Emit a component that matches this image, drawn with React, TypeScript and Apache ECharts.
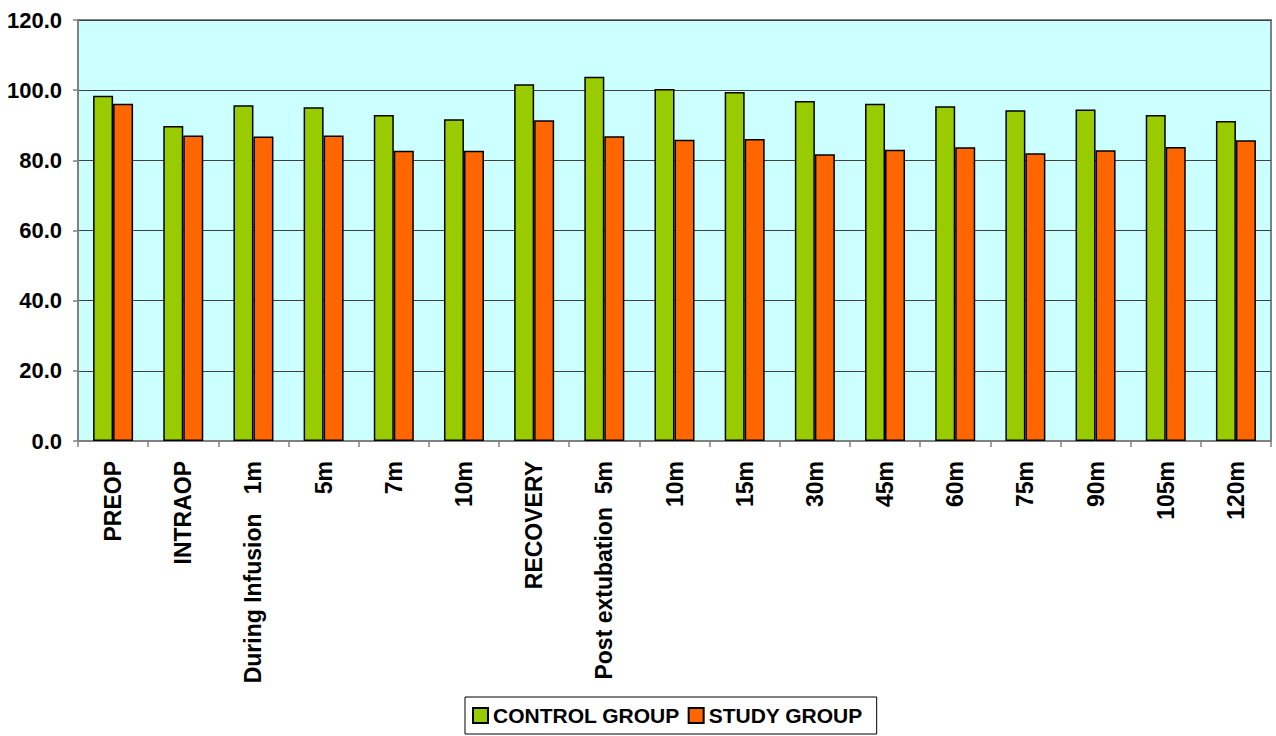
import React, { useEffect, useRef } from "react";
import * as echarts from "echarts";

const categories = [
  "PREOP",
  "INTRAOP",
  "During Infusion   1m",
  "5m",
  "7m",
  "10m",
  "RECOVERY",
  "Post extubation  5m",
  "10m",
  "15m",
  "30m",
  "45m",
  "60m",
  "75m",
  "90m",
  "105m",
  "120m",
];

const controlGroup = [98.4, 89.8, 95.7, 95.1, 92.9, 91.7, 101.7, 103.8, 100.3, 99.5, 96.9, 96.1, 95.4, 94.3, 94.5, 92.9, 91.2];
const studyGroup = [96.1, 87.1, 86.8, 87.1, 82.7, 82.7, 91.4, 86.9, 85.9, 86.1, 81.7, 83.0, 83.7, 82.0, 82.9, 83.8, 85.7];

const seriesNames = ["CONTROL GROUP", "STUDY GROUP"];
const yMin = 0;
const yMax = 120;
const yInterval = 20;

export default function App() {
  const ref = useRef<HTMLDivElement>(null);
  useEffect(() => {
    if (!ref.current) return;
    const chart = echarts.init(ref.current, null, { renderer: "svg" });
    chart.setOption({
      animation: false,
      backgroundColor: "#ffffff",
      grid: {
        left: 78,
        top: 20,
        right: 5,
        bottom: 295,
        show: true,
        outerBoundsMode: "none",
        containLabel: false,
        backgroundColor: "#CCFFFF",
        borderColor: "#808080",
        borderWidth: 2,
      },
      legend: {
        data: seriesNames,
        left: 465,
        top: 697,
        padding: [8, 14, 8, 7],
        itemWidth: 15,
        itemHeight: 15,
        itemGap: 8,
        icon: "rect",
        borderColor: "#000000",
        borderWidth: 1,
        textStyle: {
          color: "#000000",
          fontFamily: "'Liberation Sans', Arial, sans-serif",
          fontWeight: "bold",
          fontSize: 21,
        },
      },
      xAxis: {
        type: "category",
        data: categories,
        boundaryGap: true,
        axisLine: { show: true, lineStyle: { color: "#808080", width: 2 } },
        axisTick: { show: true, length: 6, lineStyle: { color: "#808080", width: 1.5 } },
        axisLabel: {
          interval: 0,
          rotate: 90,
          margin: 20,
          color: "#000000",
          fontFamily: "'Liberation Sans', Arial, sans-serif",
          fontWeight: "bold",
          fontSize: 23,
        },
        splitLine: { show: false },
      },
      yAxis: {
        type: "value",
        min: yMin,
        max: yMax,
        interval: yInterval,
        axisLine: { show: true, lineStyle: { color: "#808080", width: 2 } },
        axisTick: { show: true, length: 5, lineStyle: { color: "#808080", width: 1.5 } },
        axisLabel: {
          margin: 16,
          color: "#000000",
          fontFamily: "'Liberation Sans', Arial, sans-serif",
          fontWeight: "bold",
          fontSize: 22,
          formatter: (v: number) => v.toFixed(1),
        },
        splitLine: { show: true, lineStyle: { color: "#404040", width: 1.2 } },
      },
      series: [
        {
          name: seriesNames[0],
          type: "bar",
          data: controlGroup,
          barGap: "0%",
          barCategoryGap: "43%",
          itemStyle: { color: "#99CC00", borderColor: "#000000", borderWidth: 1.5 },
        },
        {
          name: seriesNames[1],
          type: "bar",
          data: studyGroup,
          barGap: "0%",
          barCategoryGap: "43%",
          itemStyle: { color: "#FF6600", borderColor: "#000000", borderWidth: 1.5 },
        },
      ],
    });
    return () => chart.dispose();
  }, []);
  return (
    <div
      ref={ref}
      style={{ position: "absolute", left: 0, top: 0, width: 1276, height: 736 }}
    />
  );
}
